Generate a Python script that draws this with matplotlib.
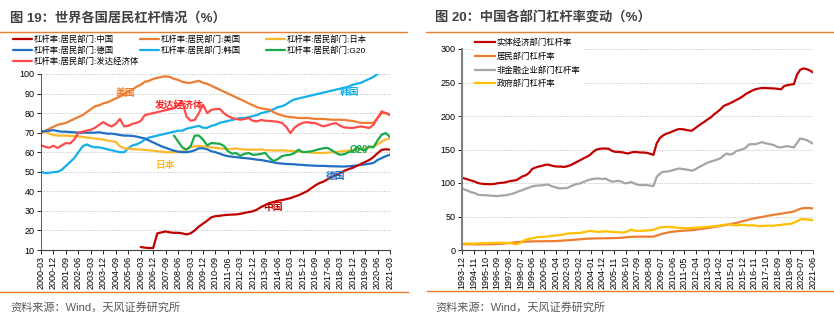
import matplotlib
matplotlib.use("Agg")
import matplotlib.pyplot as plt
import numpy as np
from matplotlib.lines import Line2D

plt.rcParams["font.family"] = ["Liberation Sans", "Noto Sans CJK SC", "DejaVu Sans"]

# --- 图19: 世界各国居民杠杆 (季度, 2000-03 ~ 2021-03) ---
nan = np.nan
cn = [nan] * 24 + [
    11.5, 11.2, 11, 11, 18.5, 19, 19.5, 19, 18.8, 18.8, 18.5, 18,
    18.5, 20, 22, 23.5, 25, 26.7, 27.3, 27.5, 27.8, 28, 28.1, 28.2,
    28.5, 29, 29.4, 29.8, 30.7, 32, 33, 34, 34.6, 35.2, 35.5, 36,
    36.5, 37.3, 38, 39, 40, 41.5, 43, 44.2, 45, 46.2, 47.3, 48.3,
    49.3, 50.5, 51.3, 52, 53, 54, 55, 56, 57.5, 59.5, 61.2, 61.5,
    61.3]
us = [
    69.5, 71, 72, 73, 74, 74.5, 75, 76, 77, 78, 79, 80.5,
    82, 83.5, 84, 85, 85.5, 86.5, 87.5, 88.5, 89.5, 91, 92, 93.5,
    94.5, 96, 96.5, 97.5, 98, 98.5, 98.8, 98.5, 97.5, 97, 96, 95.5,
    95.5, 96, 96.5, 95.5, 95, 94, 93, 92, 91, 90, 89, 88,
    87, 86, 85, 84, 83, 82.5, 82, 81.8, 80.5, 79.5, 78.8, 78.3,
    78, 77.8, 77.5, 77.5, 77.5, 77.3, 77, 77, 77, 76.8, 76.6, 76.6,
    76.6, 76.5, 76.2, 76, 75.5, 75, 75, 75, 75, 77.5, 80, 80,
    79]
jp = [
    71, 70.5, 69.5, 68.8, 68.5, 68.5, 68.5, 68.3, 68.2, 68, 67.8, 67.5,
    67.3, 67, 66.8, 66.5, 66, 65.6, 65.2, 63, 62, 61.8, 61.6, 61.5,
    61.3, 61.2, 61, 60.8, 60.5, 60.3, 60, 60, 60, 60, 60.5, 61.5,
    62.5, 63, 63.2, 63, 62.8, 62.5, 62.2, 62, 61.8, 61.7, 61.6, 62,
    61.5, 61.4, 61.3, 61.3, 61.2, 61.5, 61, 61, 60.9, 60.9, 61, 60.8,
    60.7, 60.5, 60.3, 60.2, 60, 59.8, 59.7, 59.6, 59.6, 59.8, 60, 60.2,
    60.4, 60.6, 60.8, 61, 61.3, 61.6, 62, 62.4, 62.8, 64, 65.5, 66.5,
    67.3]
de = [
    70.5, 70.8, 71, 71.3, 70.8, 70.5, 70.5, 70.3, 70.2, 70, 70, 70,
    70, 70, 70.2, 69.8, 69.5, 69.5, 69.2, 68.8, 68.5, 68.5, 68.3, 68,
    67.5, 67, 66, 65, 64, 63, 62.3, 61.5, 60.8, 60.3, 60, 60,
    60.3, 61, 62, 62, 61.5, 60.5, 60, 59.3, 58.5, 58, 57.7, 57.5,
    57.2, 57, 56.8, 56.5, 56.2, 56, 55.6, 55.2, 54.8, 54.4, 54.2, 54,
    53.9, 53.8, 53.6, 53.5, 53.3, 53.2, 53.1, 53, 53, 52.9, 52.8, 52.8,
    52.7, 52.7, 52.8, 53, 53.2, 53.5, 53.8, 54.1, 54.5, 56, 57, 58,
    58.8]
kr = [
    50, 49.3, 49.5, 49.8, 50, 51, 53, 55, 57, 60, 63, 64,
    63, 62.5, 62.5, 62, 61.5, 61, 60.5, 60, 60, 62, 63.5, 64,
    65, 66.5, 67.5, 68, 68.5, 69, 69.5, 70, 70.5, 71, 71, 72,
    72.5, 73, 73.5, 72.5, 72.5, 73.5, 74, 75, 75.5, 76, 76.5, 77,
    77.5, 77.5, 78, 78.5, 79, 80, 80.5, 81, 82, 83, 83.5, 84.5,
    86, 87, 87.5, 88, 88.5, 89, 89.5, 90, 90.5, 91, 91.5, 92,
    92.5, 93, 93.5, 94.5, 95, 95.5, 96.5, 97.5, 98.5, 100, 102, 104,
    106]
g20 = [nan] * 32 + [
    68.5, 65.5, 62.5, 61.3, 63, 68.5, 68.5, 66.5, 63.5, 64.7, 64.5, 64.3,
    63.3, 60.5, 59.3, 59.5, 58.2, 59.2, 59.6, 58.7, 58.8, 59.2, 59.6, 57,
    55.5, 56.5, 58, 58.5, 58.7, 59.6, 61.3, 60, 60.2, 60.4, 61, 61.6,
    62, 62.2, 61, 59.6, 58.7, 59, 60, 60.4, 62.5, 61.5, 61, 63,
    62.5, 66, 69, 69.8, 67.8]
dev = [
    63.5, 62.8, 62.3, 63.3, 62.2, 63.5, 64.7, 64.5, 66.4, 70, 70.5, 71,
    71.5, 72.5, 74, 75.4, 74, 73.2, 74.5, 77, 73.2, 73.5, 74.5, 75,
    76, 79, 79.5, 80, 80.5, 81, 81.5, 82, 82.5, 84, 86, 78.3,
    76.1, 76.5, 80, 84.3, 80, 81.7, 82, 82.2, 80, 78.5, 77.5, 77,
    76.6, 77, 77.5, 76, 75.8, 76.5, 76.1, 76, 75.8, 75.5, 75, 73,
    69.8, 72.5, 74.1, 75, 75.4, 75, 74.9, 74, 73.2, 73.8, 74.5, 74.9,
    73.5, 72.7, 72.5, 72.4, 72.8, 73.2, 72.8, 72.4, 74, 77.5, 80.9, 80,
    79.2]

# --- 图20: 中国各部门杠杆率 (季度, 1993-12 ~ 2021-06) ---
real_econ = [
    108, 106.5, 105, 103.5, 102, 100, 99, 98.5, 98.3, 98.2, 98.5, 99.5,
    100.2, 100.5, 101.5, 102.8, 103.5, 104.2, 107, 110, 111.5, 115, 121, 123,
    124.5, 125.5, 127, 127.5, 126, 125, 124.5, 124.5, 124, 125, 126.6, 129,
    131.5, 134, 136.5, 139, 141.5, 146, 149.5, 151, 151.4, 151.5, 151, 148,
    146.5, 146.5, 146, 145, 144, 145.5, 146.4, 146, 145.5, 145.5, 145, 143.5,
    142, 159, 167, 171, 173.5, 175, 177, 179, 180.6, 180.3, 179.5, 178.5,
    178, 181.5, 185, 188.5, 191.5, 195, 198, 202.5, 206, 210, 215, 217,
    219, 221.4, 224, 226.4, 229.5, 233, 235.5, 238, 240, 241, 241.8, 241.8,
    241.5, 241.3, 241, 240.5, 239.8, 244.8, 246, 247, 247.5, 262, 269, 271,
    270, 268, 265]
household = [
    8.8, 8.7, 8.6, 8.5, 8.5, 8.5, 8.5, 8.5, 8.6, 8.7, 8.8, 9,
    9.2, 9.5, 10, 10.5, 11, 11.5, 12, 12.3, 12.5, 12.7, 12.8, 13,
    13, 13, 13.1, 13.2, 13.2, 13.3, 13.5, 13.8, 14.2, 14.5, 14.8, 15.2,
    15.6, 16, 16.4, 16.8, 17, 17.2, 17.3, 17.4, 17.5, 17.5, 17.6, 17.7,
    17.8, 18, 18.3, 18.8, 19.3, 19.6, 19.8, 19.9, 19.9, 19.9, 19.9, 19.9,
    20, 21.5, 23, 24.5, 25.5, 26.5, 27.3, 27.8, 28.3, 28.7, 29, 29.3,
    29.6, 30.2, 30.8, 31.4, 32, 32.8, 33.6, 34.4, 35.2, 36, 36.8, 37.6,
    38.5, 39.5, 40.5, 41.7, 43, 44.3, 45.5, 46.6, 47.6, 48.5, 49.3, 50.2,
    51.2, 52, 52.8, 53.5, 54.2, 55, 55.8, 56.5, 57.5, 59.5, 61.5, 62.5,
    62.7, 62.5, 62]
nonfin_corp = [
    92, 90, 88, 86, 85, 82.5, 82, 81.8, 81.5, 81, 80.8, 80.5,
    81, 81.5, 82, 83, 84.4, 86, 88, 89.5, 91.5, 93, 95, 95.8,
    96.3, 96.5, 97.5, 97.5, 95.5, 94, 92.5, 92, 92.3, 92.5, 95, 97,
    98.5, 99.3, 101.5, 103.3, 105, 106, 106.5, 106.7, 106, 106.5, 104, 102,
    102.5, 103.3, 102, 99.5, 100, 101.5, 99.3, 97.5, 96.8, 97, 96.8, 96,
    95.3, 109, 114, 116.7, 117, 117.7, 119, 120.5, 121.6, 121, 120.3, 119.5,
    118.3, 120, 123, 125.5, 128, 130.5, 132, 133.5, 135, 137, 141, 144,
    142.4, 144, 147.9, 149, 150.4, 153, 157.8, 158, 157.8, 159.5, 161, 159.5,
    158.5, 157.5, 156, 153.5, 153, 154.5, 154.9, 154, 153, 160, 166.3, 165.5,
    164, 161.5, 158.8]
government = [
    9.5, 9.5, 9.5, 9.5, 9.6, 9.8, 10, 10, 10.2, 10.5, 10.5, 10.8,
    10.8, 10.7, 10.5, 10.3, 9.5, 8.5, 10, 13, 15.5, 16.5, 17.5, 18.5,
    19.5, 19.5, 19.8, 20.5, 21, 21.5, 22, 22.5, 23.5, 24.5, 25, 25,
    25.5, 25.5, 26.5, 27.5, 28.4, 28, 27.5, 27, 27.5, 28, 27.5, 27,
    26.5, 26.5, 26, 26.5, 28, 30.5, 29, 28.5, 28.5, 29, 29, 29.5,
    30, 32, 33.5, 34, 34.5, 34.3, 34, 33.5, 33, 32.8, 32.5, 32.5,
    33, 33.3, 33.5, 33.8, 34, 34.5, 35, 35.5, 36, 36.5, 37.5, 38,
    38.5, 37, 36.5, 37.5, 37.5, 37, 36.5, 37, 36.5, 35.5, 36, 36,
    36.5, 36, 36.5, 37, 37.5, 38.5, 38.5, 39, 40.5, 43, 45.5, 46,
    45.5, 45, 44.5]

W, H = 834, 321
fig = plt.figure(figsize=(W / 100, H / 100), dpi=100)


def fx(px):
    return px / W


def fy(py):
    return 1 - py / H


GRID = dict(axis="y", linestyle=(0, (1, 1.5)), color="#BFBFBF", linewidth=0.7)

# ================= 左图 =================
ax1 = fig.add_axes([fx(41), fy(250), fx(349), 176 / H])
q = np.arange(len(us))
series1 = [
    ("杠杆率:居民部门:中国", cn, "#C00000"),
    ("杠杆率:居民部门:德国", de, "#1F6FC5"),
    ("杠杆率:居民部门:发达经济体", dev, "#FF4B4B"),
    ("杠杆率:居民部门:美国", us, "#ED7D31"),
    ("杠杆率:居民部门:韩国", kr, "#14AFEA"),
    ("杠杆率:居民部门:日本", jp, "#FBB829"),
    ("杠杆率:居民部门:G20", g20, "#1AAA4A"),
]
draw_order = [4, 3, 5, 1, 6, 2, 0]
lines1 = {}
for i in draw_order:
    name, vals, col = series1[i]
    lines1[i], = ax1.plot(q, vals, color=col, lw=1.6, label=name, solid_capstyle="round")

ax1.set_xlim(0, 84)
ax1.set_ylim(10, 100)
ax1.set_yticks(range(10, 101, 10))
xt1 = np.arange(0, 85, 3)
ax1.set_xticks(xt1)
ax1.set_xticklabels([f"{2000 + (2 + 3 * k) // 12}-{(2 + 3 * k) % 12 + 1:02d}" for k in xt1],
                    rotation=90)
ax1.tick_params(labelsize=6.5, length=3, width=0.6, pad=1.5, colors="#000000")
ax1.grid(**GRID)
ax1.set_axisbelow(True)
for s in ("top", "right"):
    ax1.spines[s].set_visible(False)
ax1.spines["left"].set_color("#404040")
ax1.spines["bottom"].set_color("#404040")
ax1.spines["left"].set_linewidth(0.6)
ax1.spines["bottom"].set_linewidth(0.8)

# 标注
notes1 = [
    ("美国", 20.3, 90.4, "#ED7D31"),
    ("发达经济体", 33.3, 84.3, "#FF2020"),
    ("韩国", 74.2, 91.0, "#14AFEA"),
    ("日本", 29.9, 53.4, "#FBB829"),
    ("G20", 76.4, 61.3, "#1AAA4A"),
    ("德国", 71.0, 48.0, "#1F6FC5"),
    ("中国", 55.7, 32.1, "#C00000"),
]
for txt, xx, yy, col in notes1:
    ax1.text(xx, yy, txt, color=col, fontsize=7, fontweight="bold", ha="center", va="center")

# 图例: 三列分别定位
LEG1 = dict(loc="upper left", frameon=False, fontsize=6, handlelength=2.3,
            handletextpad=0.2, labelspacing=0.3, borderpad=0, borderaxespad=0)
for col_idx, x0 in [([0, 1, 2], 13), ([3, 4], 140), ([5, 6], 266)]:
    fig.legend(handles=[lines1[i] for i in col_idx],
               bbox_to_anchor=(fx(x0), fy(35)), **LEG1)

# ================= 右图 =================
ax2 = fig.add_axes([fx(462), fy(250), fx(351), 201 / H])
m = np.arange(len(real_econ)) * 3
series2 = [
    ("实体经济部门杠杆率", real_econ, "#C00000"),
    ("居民部门杠杆率", household, "#ED7D31"),
    ("非金融企业部门杠杆率", nonfin_corp, "#A5A5A5"),
    ("政府部门杠杆率", government, "#FFC000"),
]
for name, vals, col in series2:
    ax2.plot(m, vals, color=col, lw=1.6, label=name)

ax2.set_xlim(0, 330)
ax2.set_ylim(0, 300)
ax2.set_yticks(range(0, 301, 50))
xt2 = np.arange(0, 331, 11)
ax2.set_xticks(xt2)
ax2.set_xticklabels([f"{1993 + (11 + k) // 12}-{(11 + k) % 12 + 1:02d}" for k in xt2],
                    rotation=90)
ax2.tick_params(labelsize=6.5, length=3, width=0.6, pad=1.5)
ax2.grid(**GRID)
ax2.set_axisbelow(True)
for s in ("top", "right"):
    ax2.spines[s].set_visible(False)
ax2.spines["left"].set_color("#808080")
ax2.spines["left"].set_linewidth(1.5)
ax2.spines["bottom"].set_color("#404040")
ax2.spines["bottom"].set_linewidth(0.8)

leg2 = ax2.legend(loc="upper left", bbox_to_anchor=(fx(474), fy(38)),
                  bbox_transform=fig.transFigure, fontsize=6, frameon=True,
                  handlelength=2.4, handletextpad=0.2, labelspacing=0.62,
                  borderpad=0.1, borderaxespad=0)
leg2.get_frame().set_facecolor("white")
leg2.get_frame().set_edgecolor("white")
leg2.get_frame().set_alpha(1)

# ================= 标题/来源/分隔线 =================
TITLE = dict(fontsize=9.5, fontweight="bold", color="#404040", va="center")
fig.text(fx(10), fy(18), "图 19：世界各国居民杠杆情况（%）", **TITLE)
fig.text(fx(435), fy(18), "图 20：中国各部门杠杆率变动（%）", **TITLE)
SRC = dict(fontsize=8, color="#595959", va="center")
fig.text(fx(10), fy(307), "资料来源：Wind，天风证券研究所", **SRC)
fig.text(fx(435), fy(307), "资料来源：Wind，天风证券研究所", **SRC)

ORANGE = "#ED7D31"
for x0, x1, yy in [(0, 407, 32), (426, 834, 32), (0, 408, 292), (427, 834, 291)]:
    fig.add_artist(Line2D([fx(x0), fx(x1)], [fy(yy), fy(yy)], color=ORANGE, lw=1.0))

fig.savefig("out.png", dpi=100)
plt.close(fig)
